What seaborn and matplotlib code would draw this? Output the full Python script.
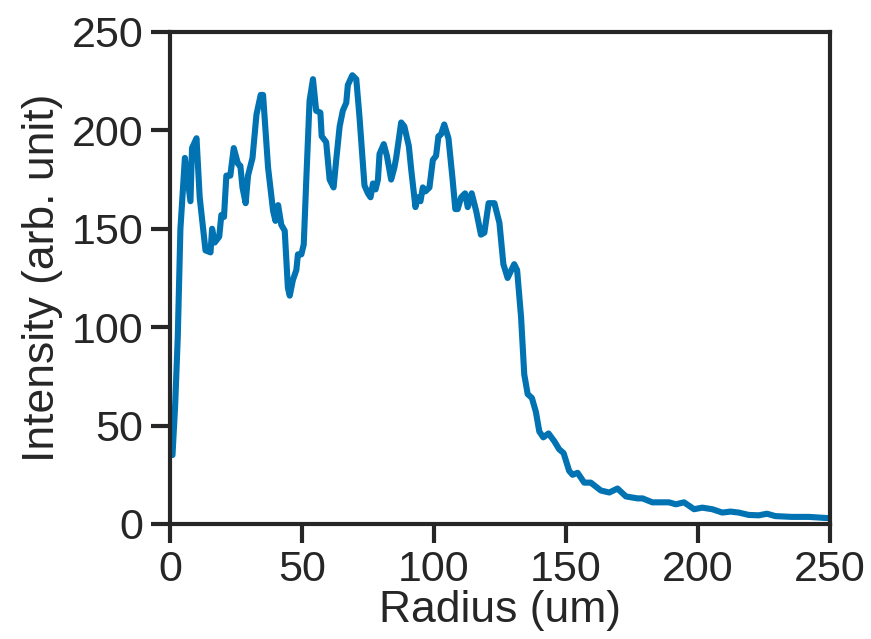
import numpy as np
import pandas as pd
import matplotlib
matplotlib.use("Agg")
import matplotlib.pyplot as plt
import seaborn as sns

radius = [1.0, 2.0, 3.0, 4.0, 5.7, 7.8, 8.4, 10.1, 11.3, 13.5, 15.4, 16.0, 17.0, 18.7,
          19.5, 20.5, 21.4, 22.9, 24.2, 25.8, 26.7, 27.5, 28.7, 29.6, 31.3, 32.8, 34.4,
          35.3, 37.2, 39.1, 40.0, 41.0, 42.2, 43.5, 44.7, 45.4, 46.6, 47.9, 48.5, 49.8,
          50.7, 51.7, 52.9, 54.2, 55.4, 57.0, 57.5, 59.2, 60.5, 62.0, 63.0, 64.3, 65.5,
          66.8, 67.4, 69.1, 70.6, 71.8, 73.7, 75.0, 76.0, 76.9, 77.9, 78.8, 79.4, 81.0,
          82.2, 83.8, 85.0, 85.7, 87.6, 88.8, 90.5, 91.4, 93.0, 93.9, 94.9, 95.8, 96.8,
          98.3, 99.6, 100.8, 101.7, 102.7, 103.9, 105.5, 107.0, 108.1, 109.0, 110.3,
          111.8, 112.8, 114.3, 116.0, 117.8, 119.1, 120.7, 122.9, 124.8, 126.3, 127.9,
          130.4, 131.5, 133.0, 134.2, 135.5, 137.1, 138.6, 139.9, 141.4, 143.4, 145.6,
          147.4, 149.1, 151.2, 152.5, 154.4, 156.9, 159.4, 163.2, 166.4, 169.5, 172.7,
          177.1, 179.0, 182.7, 189.0, 191.6, 194.7, 198.5, 201.6, 205.4, 209.2, 212.3,
          215.4, 219.2, 223.0, 226.1, 229.3, 235.6, 242.0, 250.0]
intensity = [35, 60, 95, 150, 186, 164, 191, 196, 166, 139, 138, 150, 143, 146,
             157, 156, 177, 177, 191, 183, 182, 171, 163, 177, 186, 208, 218,
             218, 181, 159, 154, 162, 152, 149, 120, 116, 124, 129, 137, 137,
             142, 176, 215, 226, 210, 209, 197, 194, 175, 171, 185, 202, 210,
             214, 223, 228, 226, 207, 172, 168, 166, 173, 170, 175, 188, 193,
             187, 175, 181, 186, 204, 202, 192, 180, 161, 166, 164, 171, 169,
             171, 185, 187, 197, 198, 203, 196, 176, 160, 160, 166,
             168, 161, 168, 159, 147, 148, 163, 163, 153, 132, 125,
             132, 129, 105, 76, 66, 64, 57, 47, 44, 46, 42,
             38, 36, 27, 25, 26, 21, 21, 17, 16, 18, 14,
             13, 13, 11, 11, 10, 11, 7.5, 8.3, 7.5, 5.8, 6.3,
             5.8, 4.6, 4.4, 5.2, 4.0, 3.6, 3.6, 2.9]

xticks = [0, 50, 100, 150, 200, 250]
yticks = [0, 50, 100, 150, 200, 250]

sns.set_theme(style="ticks", context="poster", palette="colorblind")
plt.rcParams["font.family"] = ["Liberation Sans", "DejaVu Sans"]

df = pd.DataFrame({"Radius": radius, "Intensity": intensity})

fig = plt.figure(figsize=(8.71, 6.39), dpi=100)
ax = fig.add_axes([0.195, 0.18, 0.758, 0.77])
sns.lineplot(data=df, x="Radius", y="Intensity", ax=ax, linewidth=4.4,
             color=sns.color_palette("colorblind")[0], sort=False,
             solid_joinstyle="round", solid_capstyle="round")

ax.set_xlim(0, 250)
ax.set_ylim(0, 250)
ax.set_xticks(xticks)
ax.set_yticks(yticks)
ax.tick_params(axis="both", labelsize=31, length=14, width=3, pad=5)
for s in ax.spines.values():
    s.set_linewidth(3)
ax.set_xlabel("Radius (um)", fontsize=32, labelpad=0)
ax.set_ylabel("Intensity (arb. unit)", fontsize=32, labelpad=6)

fig.savefig("out.png", dpi=100)
